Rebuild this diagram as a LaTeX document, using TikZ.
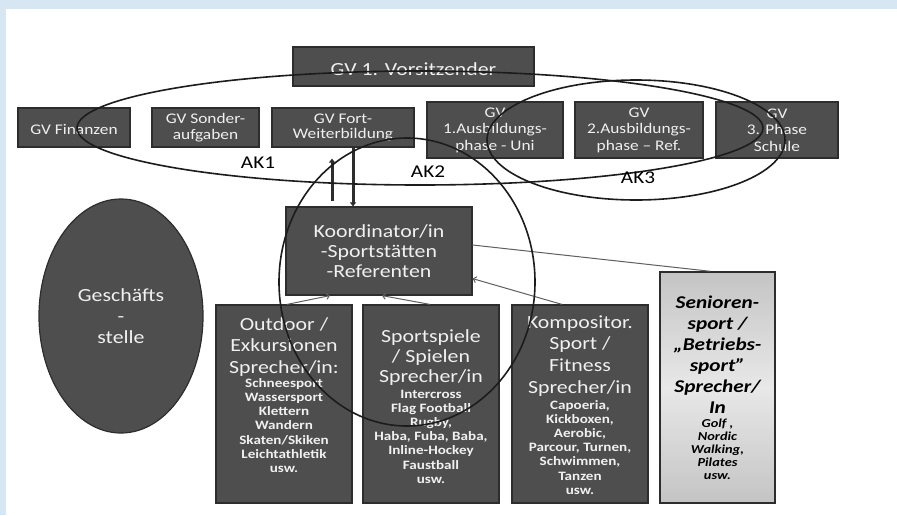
\documentclass[tikz,border=0pt]{standalone}
\usepackage{fontspec}
\setmainfont{Carlito}[FakeStretch=1.18]
\usetikzlibrary{shapes.geometric,arrows.meta,calc}
\definecolor{bgblue}{RGB}{214,230,243}
\definecolor{boxfill}{RGB}{78,78,78}
\definecolor{boxline}{RGB}{45,45,45}
\definecolor{boxtext}{RGB}{240,240,240}
\definecolor{ringline}{RGB}{28,28,28}
\definecolor{thinline}{RGB}{95,95,95}
\definecolor{senA}{RGB}{196,196,196}
\definecolor{senB}{RGB}{232,232,232}
\newcommand\fs[2]{\fontsize{#1}{#2}\selectfont}
\newcommand\txtblock[2]{\parbox[t]{#1}{\centering #2}}
\tikzset{
  dbox/.style={draw=boxline, line width=1.2pt, fill=boxfill, text=boxtext, inner sep=0pt, align=center},
  ttext/.style={text=boxtext, inner sep=0pt, anchor=north},
  ring/.style={draw=ringline, line width=1.6pt, ellipse, inner sep=0pt},
  aklabel/.style={text=black, inner sep=0pt, font=\fs{18}{18}},
  thickarrow/.style={draw=boxline, line width=3pt, -{Triangle[width=6pt,length=4pt]}},
  thinarrow/.style={draw=thinline, line width=1pt, -{Straight Barb[length=3pt,width=6pt]}},
  thinconn/.style={draw=thinline, line width=1pt},
}
\begin{document}
\begin{tikzpicture}[x=1pt,y=-1pt]
\useasboundingbox (0,0) rectangle (897,515);
\fill[bgblue] (0,0) rectangle (897,515);
\fill[white] (6,9) rectangle (897,515);

% top
\node[dbox, minimum width=241pt, minimum height=39pt, text height=18pt, text depth=0pt, font=\fs{18.5}{20}] (vors) at (413.5,66.5) {GV 1. Vorsitzender};
% row 2
\node[dbox, minimum width=112pt, minimum height=39pt, text height=14pt, text depth=0pt, font=\fs{14.7}{16}] (fin) at (74,127.5) {GV Finanzen};
\node[dbox, minimum width=107pt, minimum height=39pt, font=\fs{14.7}{15.5}] (sond) at (205.5,127.5) {GV Sonder-\\aufgaben};
\node[dbox, minimum width=142pt, minimum height=39pt, font=\fs{14.7}{15.5}] (fort) at (343,127.5) {GV Fort-\\Weiterbildung};
\node[dbox, minimum width=136pt, minimum height=56pt, font=\fs{14.7}{16.5}] (aus1) at (495,130) {GV\\1.Ausbildungs-\\phase - Uni};
\node[dbox, minimum width=128pt, minimum height=56pt, font=\fs{14.7}{16.5}] (aus2) at (639,130) {GV\\2.Ausbildungs-\\phase – Ref.};
\node[dbox, minimum width=122pt, minimum height=56pt, font=\fs{14.7}{16.5}] (aus3) at (777,130) {GV\\3. Phase\\Schule};

% Koordinator
\node[dbox, minimum width=186pt, minimum height=88pt, font=\fs{18.5}{20}] (koord) at (379,251) {Koordinator/in\\-Sportstätten\\-Referenten};

% Geschaeftsstelle
\node[dbox, ellipse, minimum width=164pt, minimum height=234pt, font=\fs{18.5}{21}] (gs) at (121,316) {Geschäfts\\-\\stelle};

% lower boxes
\node[dbox, minimum width=136pt, minimum height=198pt] (out) at (284,404) {};
\node[dbox, minimum width=136pt, minimum height=198pt] (spiel) at (431,404) {};
\node[dbox, minimum width=136pt, minimum height=198pt] (komp) at (580,404) {};
\node[draw=boxline, line width=1.5pt, top color=senA, bottom color=senA, middle color=senB, inner sep=0pt, minimum width=115pt, minimum height=231pt] (sen) at (717.5,387.5) {};

\node[ttext] (outT) at ([yshift=-12.7pt]out.north)
  {\txtblock{134pt}{\fs{18.5}{21.5}Outdoor /\\Exkursionen\\Sprecher/in:\\\bfseries\fs{12.8}{14.2}Schneesport\\Wassersport\\Klettern\\Wandern\\Skaten/Skiken\\Leichtathletik\\usw.}};
\node[ttext] (spielT) at ([yshift=-24.7pt]spiel.north)
  {\txtblock{134pt}{\fs{18.5}{20}Sportspiele\\/ Spielen\\Sprecher/in\\[1.8pt]\bfseries\fs{12.8}{14.2}Intercross\\Flag Football\\Rugby,\\Haba, Fuba, Baba,\\Inline-Hockey\\Faustball\\usw.}};
\node[ttext] (kompT) at ([yshift=-10.7pt]komp.north)
  {\txtblock{134pt}{\fs{18.5}{21.7}Kompositor.\\Sport /\\Fitness\\Sprecher/in\\[1.8pt]\bfseries\fs{12.8}{14.2}Capoeria,\\Kickboxen,\\Aerobic,\\Parcour, Turnen,\\Schwimmen,\\Tanzen\\usw.}};
\node[ttext, text=black] (senT) at ([yshift=-24.5pt]sen.north)
  {\txtblock{113pt}{\bfseries\itshape\fs{18}{21}Senioren-\\sport /\\„Betriebs-\\sport”\\Sprecher/\\In\\[0.3pt]\fs{12.2}{13.2}Golf ,\\Nordic\\Walking,\\Pilates\\usw.}};

% connectors
\draw[thickarrow] ([xshift=-47pt,yshift=5pt]koord.north) -- ([xshift=-11pt,yshift=-11pt]fort.south);
\draw[thickarrow] ([xshift=10pt]fort.south) -- ([xshift=-26pt]koord.north);
\draw[thinarrow] ([xshift=3pt]out.north) -- ([xshift=-49pt]koord.south);
\draw[thinarrow] ([xshift=-1pt]spiel.north) -- ([xshift=3pt]koord.south);
\draw[thinarrow] ([xshift=-18pt]komp.north) -- ([yshift=17pt]koord.south east);
\draw[thinconn] ([yshift=6pt]koord.east) -- ([xshift=-7.5pt]sen.north);

% working groups
\node[ring, minimum width=686pt, minimum height=114pt] (ak1) at (420,128) {};
\node[ring, minimum width=298pt, minimum height=120pt] (ak3) at (636,140) {};
\node[ring, minimum width=256pt, minimum height=288pt] (ak2) at (407,282) {};
\node[aklabel] (ak1l) at (258,163) {AK1};
\node[aklabel] (ak2l) at (428,172) {AK2};
\node[aklabel] (ak3l) at (638,178) {AK3};
\end{tikzpicture}
\end{document}
